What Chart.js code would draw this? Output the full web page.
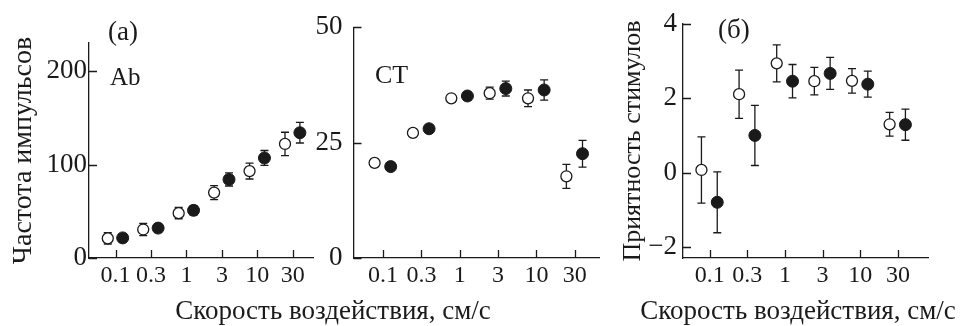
<!DOCTYPE html>
<html lang="ru">
<head>
<meta charset="utf-8">
<script src="https://cdn.jsdelivr.net/npm/chart.js@4.4.1/dist/chart.umd.min.js"></script>
<style>
  html, body { margin: 0; padding: 0; background: #fff; }
  #page {
    position: relative; width: 961px; height: 326px; overflow: hidden;
    font-family: "Liberation Serif", "Times New Roman", serif; color: #1a1a1a;
  }
  .panel { position: absolute; top: 0; height: 326px; }
  .note { position: absolute; line-height: 1; white-space: nowrap; }
  .xtitle { position: absolute; top: 297px; font-size: 27px; line-height: 1; white-space: nowrap; transform: translateX(-50%); }
</style>
</head>
<body>
<div id="page">
  <div class="panel" style="left:0;width:320px"><canvas id="abChart"></canvas></div>
  <div class="panel" style="left:300px;width:310px"><canvas id="ctChart"></canvas></div>
  <div class="panel" style="left:600px;width:361px"><canvas id="pleasantChart"></canvas></div>

  <div class="note" style="left:108px;top:18px;font-size:27px">(a)</div>
  <div class="note" style="left:110px;top:64px;font-size:25px">Ab</div>
  <div class="note" style="left:375px;top:62px;font-size:26px">CT</div>
  <div class="note" style="left:718px;top:16px;font-size:27px">(б)</div>

  <div class="xtitle" style="left:333px">Скорость воздействия, см/с</div>
  <div class="xtitle" style="left:798px">Скорость воздействия, см/с</div>
</div>

<script>
/* ---- data ---- */
const speedLabels = ['0.1', '0.3', '1', '3', '10', '30'];

// (a) Ab afferents, impulse frequency
const abOpen = [21, 30.5, 48, 70, 93, 122];
const abOpenErr = [6, 6.5, 6, 7.5, 8.5, 12.5];
const abFilled = [21.5, 32, 51, 84, 107, 134];
const abFilledErr = [4, 4.5, 5, 7, 8, 11];
const abTicks = [0, 100, 200];

// (a) CT afferents
const ctOpen = [20.6, 27.1, 34.6, 35.7, 34.6, 17.7];
const ctOpenErr = [0.8, 0.8, 0.8, 1.3, 1.8, 2.6];
const ctFilled = [19.8, 28, 35.1, 36.7, 36.4, 22.6];
const ctFilledErr = [0.8, 0.8, 0.8, 1.6, 2.2, 2.9];
const ctTicks = [0, 25, 50];

// (б) pleasantness ratings
const plOpen = [0.07, 2.11, 2.94, 2.46, 2.47, 1.3];
const plOpenErr = [0.89, 0.65, 0.5, 0.37, 0.33, 0.32];
const plFilled = [-0.8, 1.0, 2.46, 2.67, 2.38, 1.29];
const plFilledErr = [0.82, 0.81, 0.45, 0.43, 0.35, 0.42];
const plTicks = [-2, 0, 2, 4];

/* ---- style ---- */
const INK = '#1a1a1a';
const FONT = '"Liberation Serif", "Times New Roman", serif';
const OPEN_SHIFT = -0.22;
const FILLED_SHIFT = 0.2;
const AXIS_WIDTH = 1.3;
const TICK_LEN = 8;

const errorBars = {
    id: 'errorBars',
    beforeDatasetsDraw(chart) {
        const { ctx, scales: { x, y } } = chart;
        ctx.save();
        ctx.strokeStyle = INK;
        ctx.lineWidth = 1.3;
        ctx.beginPath();
        chart.data.datasets.forEach(ds => {
            ds.data.forEach((p, i) => {
                const e = ds.errors[i];
                const px = x.getPixelForValue(p.x);
                const top = y.getPixelForValue(p.y + e);
                const bot = y.getPixelForValue(p.y - e);
                ctx.moveTo(px, top); ctx.lineTo(px, bot);
                ctx.moveTo(px - 4, top); ctx.lineTo(px + 4, top);
                ctx.moveTo(px - 4, bot); ctx.lineTo(px + 4, bot);
            });
        });
        ctx.stroke();
        ctx.restore();
    }
};

// tick marks pointing into the plot
const innerTicks = {
    id: 'innerTicks',
    afterDraw(chart) {
        const { ctx, chartArea, scales: { x, y } } = chart;
        ctx.save();
        ctx.strokeStyle = INK;
        ctx.lineWidth = AXIS_WIDTH;
        ctx.beginPath();
        x.ticks.forEach(t => {
            const px = Math.round(x.getPixelForValue(t.value)) + 0.5;
            ctx.moveTo(px, chartArea.bottom);
            ctx.lineTo(px, chartArea.bottom - TICK_LEN);
        });
        y.ticks.forEach(t => {
            const py = Math.round(y.getPixelForValue(t.value)) + 0.5;
            ctx.moveTo(chartArea.left, py);
            ctx.lineTo(chartArea.left + TICK_LEN, py);
        });
        ctx.stroke();
        ctx.restore();
    }
};

function points(values, shift) {
    return values.map((v, i) => ({ x: i + shift, y: v }));
}

function makePanel(id, p) {
    return new Chart(document.getElementById(id), {
        type: 'scatter',
        data: {
            datasets: [
                {
                    label: 'open',
                    data: points(p.open, OPEN_SHIFT),
                    errors: p.openErr,
                    pointRadius: 5.5,
                    pointBackgroundColor: '#fff',
                    pointBorderColor: INK,
                    pointBorderWidth: 1.3
                },
                {
                    label: 'filled',
                    data: points(p.filled, FILLED_SHIFT),
                    errors: p.filledErr,
                    pointRadius: 6,
                    pointBackgroundColor: INK,
                    pointBorderColor: INK,
                    pointBorderWidth: 1
                }
            ]
        },
        options: {
            responsive: true,
            maintainAspectRatio: false,
            animation: false,
            events: [],
            layout: { padding: { top: p.padTop, right: p.padRight, left: 0, bottom: 0 } },
            plugins: { legend: { display: false }, tooltip: { enabled: false } },
            scales: {
                x: {
                    type: 'linear',
                    min: p.xMin,
                    max: p.xMax,
                    afterBuildTicks: s => { s.ticks = speedLabels.map((_, i) => ({ value: i })); },
                    afterFit: s => { s.height = 68; },
                    grid: { display: false, drawTicks: false },
                    border: { display: true, color: INK, width: AXIS_WIDTH },
                    ticks: {
                        color: INK,
                        padding: 3,
                        maxRotation: 0,
                        autoSkip: false,
                        font: { family: FONT, size: 24 },
                        callback: v => speedLabels[v]
                    }
                },
                y: {
                    type: 'linear',
                    min: p.yMin,
                    max: p.yMax,
                    afterBuildTicks: s => { s.ticks = p.yTicks.map(v => ({ value: v })); },
                    afterFit: s => { s.width = p.yWidth; },
                    grid: { display: false, drawTicks: false },
                    border: { display: true, color: INK, width: AXIS_WIDTH },
                    ticks: {
                        color: INK,
                        padding: p.yPad,
                        font: { family: FONT, size: 27 },
                        callback: v => (v < 0 ? '\u2212' + Math.abs(v) : String(v))
                    },
                    title: {
                        display: !!p.yTitle,
                        text: p.yTitle,
                        color: INK,
                        padding: { top: p.titlePad, bottom: 0 },
                        font: { family: FONT, size: p.titleSize }
                    }
                }
            }
        },
        plugins: [errorBars, innerTicks]
    });
}

makePanel('abChart', {
    open: abOpen, openErr: abOpenErr, filled: abFilled, filledErr: abFilledErr,
    yMin: 0, yMax: 230, yTicks: abTicks,
    xMin: -0.75, xMax: 5.57,
    yWidth: 89, yPad: 2, padTop: 43, padRight: 7,
    yTitle: 'Частота импульсов', titlePad: 7, titleSize: 28
});

makePanel('ctChart', {
    open: ctOpen, openErr: ctOpenErr, filled: ctFilled, filledErr: ctFilledErr,
    yMin: 0, yMax: 50, yTicks: ctTicks,
    xMin: -0.77, xMax: 5.63,
    yWidth: 53.5, yPad: 11, padTop: 26, padRight: 11,
    yTitle: '', titlePad: 0, titleSize: 26
});

makePanel('pleasantChart', {
    open: plOpen, openErr: plOpenErr, filled: plFilled, filledErr: plFilledErr,
    yMin: -2.3, yMax: 4, yTicks: plTicks,
    xMin: -0.71, xMax: 5.8,
    yWidth: 83, yPad: 6, padTop: 24, padRight: 33,
    yTitle: 'Приятность стимулов', titlePad: 18, titleSize: 26
});
</script>
</body>
</html>
